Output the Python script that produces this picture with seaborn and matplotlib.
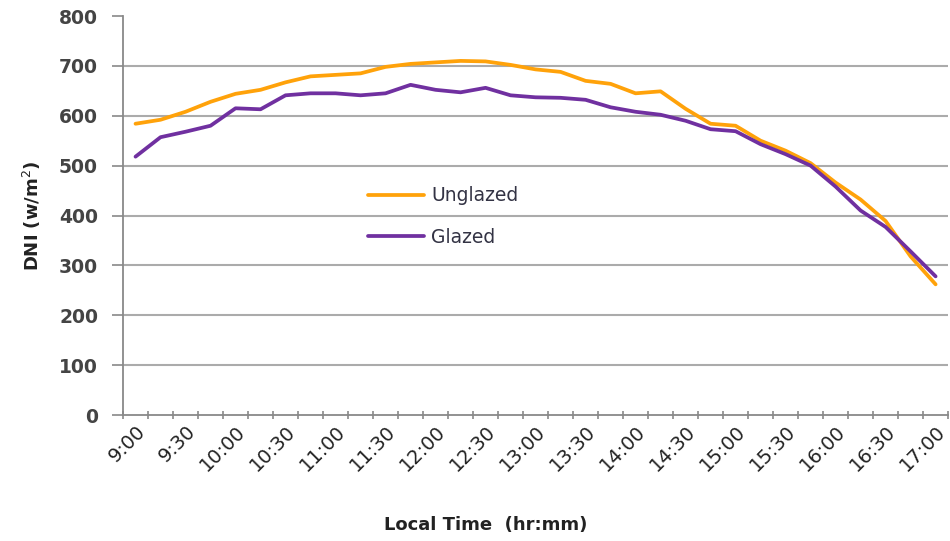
import numpy as np
import pandas as pd
import matplotlib
matplotlib.use("Agg")
import matplotlib.pyplot as plt
import seaborn as sns
from matplotlib.ticker import FixedLocator, NullFormatter

# ------------------------------------------------------------------
# Data (15 minute steps)
# ------------------------------------------------------------------
times = ["9:00", "9:15", "9:30", "9:45", "10:00", "10:15", "10:30", "10:45",
         "11:00", "11:15", "11:30", "11:45", "12:00", "12:15", "12:30", "12:45",
         "13:00", "13:15", "13:30", "13:45", "14:00", "14:15", "14:30", "14:45",
         "15:00", "15:15", "15:30", "15:45", "16:00", "16:15", "16:30", "16:45",
         "17:00"]

unglazed = [584, 592, 608, 628, 644, 652, 667, 679, 682, 685, 698, 704, 707,
            710, 709, 702, 693, 688, 670, 664, 645, 649, 614, 584, 580, 550,
            530, 505, 466, 432, 389, 318, 262]

glazed = [518, 557, 568, 580, 615, 613, 641, 645, 645, 641, 645, 662, 652,
          647, 656, 641, 637, 636, 632, 617, 608, 602, 590, 573, 569, 543,
          523, 500, 458, 410, 377, 328, 278]

series_names = ["Unglazed", "Glazed"]
series_colors = ["#FFA20A", "#7030A0"]
y_ticks = [0, 100, 200, 300, 400, 500, 600, 700, 800]

# long form table for seaborn
pos = np.arange(len(times))
df = pd.concat([
    pd.DataFrame({"pos": pos, "time": times, "DNI": unglazed, "Series": "Unglazed"}),
    pd.DataFrame({"pos": pos, "time": times, "DNI": glazed, "Series": "Glazed"}),
], ignore_index=True)

# ------------------------------------------------------------------
# Style
# ------------------------------------------------------------------
sns.set_theme(style="white")
plt.rcParams["font.family"] = ["DejaVu Sans"]

fig = plt.figure(figsize=(9.5, 5.41), dpi=100)
ax = fig.add_axes([0.1295, 0.2329, 0.8685, 0.7375])

sns.lineplot(data=df, x="pos", y="DNI", hue="Series", hue_order=series_names,
             palette=series_colors, linewidth=2.7, ax=ax, sort=False)

# axes limits (category axis, points in the middle of each category)
ax.set_xlim(-0.5, len(times) - 0.5)
ax.set_ylim(0, 800)

# horizontal gridlines (not at the top)
for v in y_ticks[1:-1]:
    ax.axhline(v, color="#ababab", lw=1.5, zorder=0)

ax.set_yticks(y_ticks)
ax.set_yticklabels([str(v) for v in y_ticks], fontsize=13.5,
                   fontweight="bold", color="#444444")

# labels every 30 min at the category centres, tick marks at boundaries
ax.xaxis.set_major_locator(FixedLocator(pos[::2]))
ax.set_xticklabels(times[::2], rotation=45, ha="right", va="top",
                   rotation_mode="anchor", fontsize=14, color="#222222")
ax.xaxis.set_minor_locator(FixedLocator(np.arange(len(times) + 1) - 0.5))
ax.xaxis.set_minor_formatter(NullFormatter())
ax.tick_params(axis="x", which="major", length=0, pad=5)
ax.tick_params(axis="x", which="minor", length=6, width=1.2, color="#898989",
               direction="inout", bottom=True)
ax.tick_params(axis="y", which="major", length=8, width=1.2, color="#898989",
               direction="out", left=True, pad=10)

for side in ["top", "right"]:
    ax.spines[side].set_visible(False)
for side in ["left", "bottom"]:
    ax.spines[side].set_color("#898989")
    ax.spines[side].set_linewidth(1.3)

ax.set_xlabel("Local Time  (hr:mm)", fontsize=13, fontweight="bold",
              color="#222222")
ax.xaxis.set_label_coords(0.44, -0.253)
ax.set_ylabel("DNI (w/m$^2$)", fontsize=13, fontweight="bold",
              color="#222222")
ax.yaxis.set_label_coords(-0.097, 0.5)

leg = ax.legend(loc="center left", bbox_to_anchor=(0.297, 0.497),
                frameon=False, fontsize=13.5, handlelength=3.0,
                handletextpad=0.35, labelspacing=1.2, borderpad=0,
                borderaxespad=0)
for line in leg.get_lines():
    line.set_linewidth(2.7)
for txt in leg.get_texts():
    txt.set_color("#333344")

fig.savefig("out.png", dpi=100)
